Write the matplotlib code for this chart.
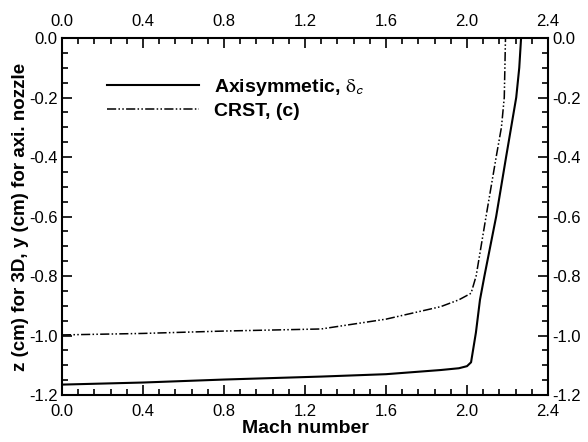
import matplotlib.pyplot as plt
from matplotlib.ticker import MultipleLocator

plt.rcParams['font.family'] = ['Liberation Sans', 'DejaVu Sans']
plt.rcParams['mathtext.fontset'] = 'stix'

# Axisymmetric nozzle (solid)
axi_mach = [0.0, 0.4, 0.8, 1.28, 1.6, 1.87, 1.96, 2.0, 2.02, 2.044, 2.064, 2.086,
            2.144, 2.193, 2.243, 2.258, 2.267]
axi_z = [-1.165, -1.158, -1.148, -1.138, -1.13, -1.116, -1.11, -1.103, -1.09, -0.99,
         -0.88, -0.8, -0.6, -0.4, -0.2, -0.1, 0.0]

# CRST, (c) (dash-dot-dot)
crst_mach = [0.0, 0.4, 0.8, 1.28, 1.6, 1.87, 1.96, 2.02, 2.045, 2.094, 2.144, 2.17,
             2.184, 2.19]
crst_z = [-0.998, -0.993, -0.985, -0.978, -0.945, -0.903, -0.88, -0.858, -0.8, -0.6,
          -0.4, -0.3, -0.2, 0.0]

fig = plt.figure(figsize=(5.88, 4.42), dpi=100)
ax = fig.add_axes([0.1054, 0.1063, 0.8266, 0.8077])

ax.plot(axi_mach, axi_z, color='black', lw=1.5, label=r'Axisymmetic, $\mathrm{\delta}_\mathsf{c}$')
ax.plot(crst_mach, crst_z, color='black', lw=1.1,
        linestyle=(0, (6, 1.5, 1, 1.5, 1, 1.5)), label='CRST, (c)')

ax.set_xlim(0, 2.4)
ax.set_ylim(-1.2, 0)
ax.xaxis.set_major_locator(MultipleLocator(0.4))
ax.xaxis.set_minor_locator(MultipleLocator(0.08))
ax.yaxis.set_major_locator(MultipleLocator(0.2))
ax.yaxis.set_minor_locator(MultipleLocator(0.05))
ax.xaxis.set_major_formatter(plt.FormatStrFormatter('%.1f'))
ax.yaxis.set_major_formatter(plt.FormatStrFormatter('%.1f'))

ax.tick_params(which='both', direction='in', top=True, right=True,
               labeltop=True, labelright=True, labelsize=12, width=1.2, pad=3)
ax.tick_params(axis='x', which='both', pad=6.5)
ax.tick_params(which='major', length=7)
ax.tick_params(which='minor', length=4)
for s in ax.spines.values():
    s.set_linewidth(1.5)

ax.set_xlabel('Mach number', fontsize=14, fontweight='bold', labelpad=0.5)
ax.set_ylabel('z (cm) for 3D, y (cm) for axi. nozzle', fontsize=13.5,
              fontweight='bold', labelpad=0)

leg = ax.legend(loc='upper left', bbox_to_anchor=(0.093, 0.89), frameon=False,
                borderpad=0, borderaxespad=0,
                handlelength=4.7, handletextpad=0.8, labelspacing=0.2,
                prop={'size': 14, 'weight': 'bold'})

fig.savefig('out.png', dpi=100)
